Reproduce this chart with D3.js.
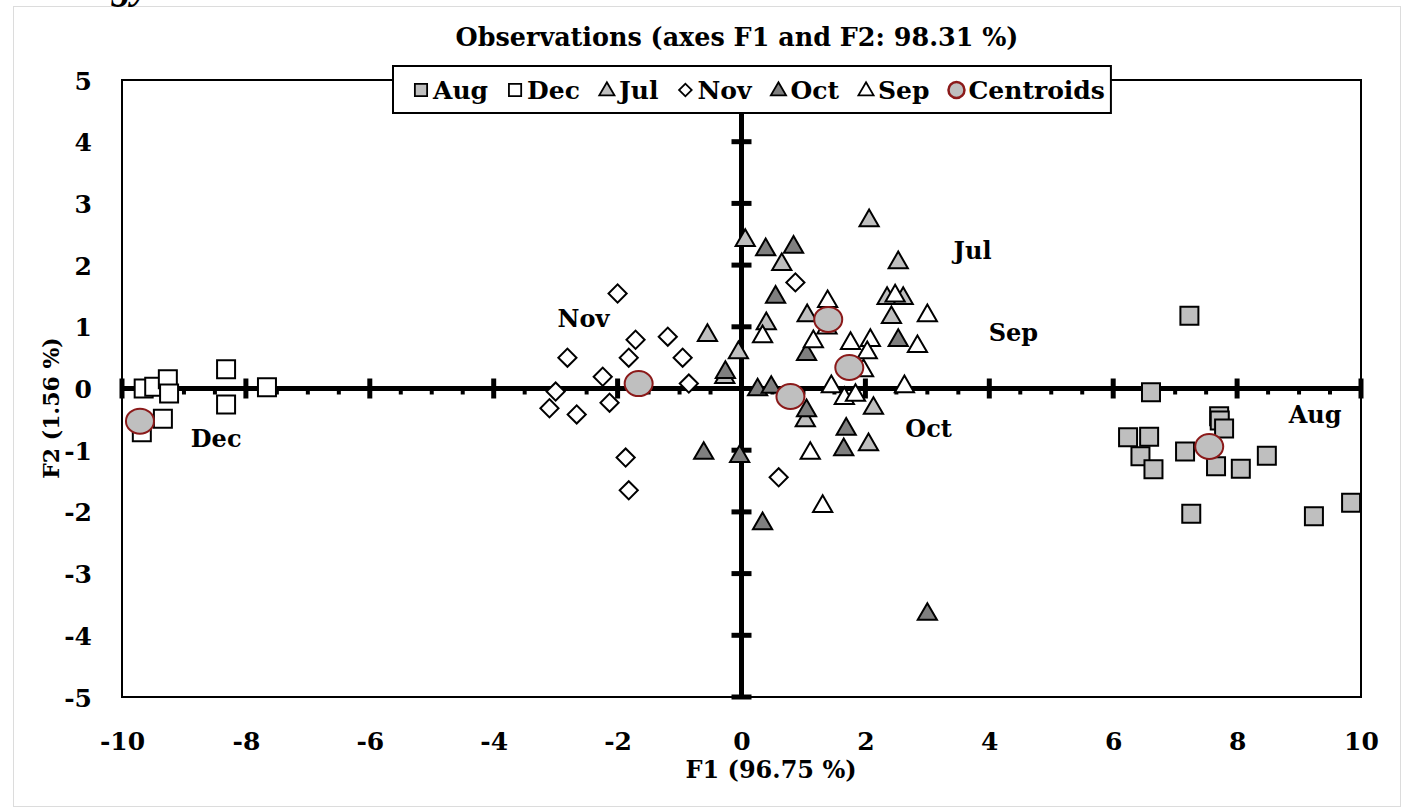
<!DOCTYPE html>
<html>
<head>
<meta charset="utf-8">
<script src="https://cdn.jsdelivr.net/npm/d3@7"></script>
<style>
  body { margin: 0; background: #fff; }
  svg { display: block; }
  text { font-family: "DejaVu Serif", serif; font-weight: bold; fill: #000; }
</style>
</head>
<body>
<div id="chart"></div>
<script>
// series points [F1, F2]
const augPoints = [[7.23, 1.18], [6.61, -0.06], [7.71, -0.45], [7.72, -0.52], [7.79, -0.65], [6.24, -0.79],
  [6.58, -0.78], [6.44, -1.10], [6.65, -1.31], [7.16, -1.02], [7.66, -1.26], [8.06, -1.30], [8.48, -1.09],
  [7.26, -2.03], [9.24, -2.07], [9.84, -1.85]];
const decPoints = [[-9.65, 0.00], [-9.48, 0.03], [-9.26, 0.15], [-9.24, -0.08], [-8.32, 0.31], [-8.32, -0.26],
  [-7.66, 0.02], [-9.34, -0.49], [-9.68, -0.71]];
const julPoints = [[2.06, 2.72], [0.06, 2.40], [0.65, 2.01], [2.53, 2.04], [2.35, 1.46], [2.61, 1.46], [2.42, 1.15],
  [0.40, 1.05], [1.06, 1.18], [-0.55, 0.86], [-0.05, 0.58], [-0.27, 0.18], [1.03, -0.52], [2.13, -0.32], [2.05, -0.91]];
const novPoints = [[-2.00, 1.54], [-1.71, 0.79], [-1.19, 0.84], [-2.81, 0.50], [-1.82, 0.50], [-0.95, 0.50],
  [-2.24, 0.19], [-0.85, 0.08], [-3.00, -0.05], [-2.13, -0.23], [-3.10, -0.32], [-2.66, -0.42], [-1.87, -1.12],
  [-1.82, -1.65], [0.60, -1.44], [0.87, 1.72]];
const octPoints = [[0.39, 2.25], [0.84, 2.29], [0.55, 1.48], [1.05, 0.55], [2.53, 0.78], [-0.26, 0.26], [0.26, -0.02],
  [0.48, 0.02], [1.05, -0.36], [1.69, -0.66], [1.65, -0.99], [-0.61, -1.05], [-0.03, -1.10], [0.34, -2.19], [3.00, -3.66]];
const sepPoints = [[1.39, 1.41], [2.48, 1.50], [3.00, 1.18], [0.34, 0.84], [1.38, 0.98], [1.16, 0.76], [1.76, 0.73],
  [2.08, 0.78], [2.03, 0.58], [2.84, 0.68], [1.97, 0.29], [1.45, 0.03], [1.66, -0.16], [1.84, -0.11], [2.63, 0.03],
  [1.11, -1.05], [1.31, -1.91]];
const centroidNames = ["Aug", "Dec", "Jul", "Nov", "Oct", "Sep"];
const centroidPoints = [[7.55, -0.94], [-9.71, -0.53], [1.40, 1.12], [-1.66, 0.08], [0.79, -0.13], [1.74, 0.34]];

// month labels placed in the plot
const labelNames = ["Dec", "Nov", "Jul", "Sep", "Oct", "Aug"];
const labelPoints = [[-8.48, -0.81], [-2.55, 1.14], [3.73, 2.24], [4.39, 0.91], [3.02, -0.65], [9.26, -0.42]];

const xTicks = [-10, -8, -6, -4, -2, 0, 2, 4, 6, 8, 10];
const yTicks = [-5, -4, -3, -2, -1, 0, 1, 2, 3, 4, 5];

const title = "Observations (axes F1 and F2: 98.31 %)";
const xTitle = "F1 (96.75 %)";
const yTitle = "F2 (1.56 %)";

const width = 1413, height = 812;

const svg = d3.select("#chart").append("svg")
  .attr("width", width)
  .attr("height", height);

// page frame + cut-off heading above the figure
svg.append("rect")
  .attr("x", 13.5).attr("y", 6.5)
  .attr("width", 1387).attr("height", 800)
  .attr("fill", "none").attr("stroke", "#dcdcdc").attr("stroke-width", 1);
svg.append("text")
  .attr("x", 112).attr("y", -2)
  .style("font-family", "'Liberation Serif', serif")
  .style("font-style", "italic")
  .style("font-size", "40px")
  .text("gy");

const x = d3.scaleLinear().domain([-10, 10]).range([122, 1361]);
const y = d3.scaleLinear().domain([-5, 5]).range([697, 80]);

// plot border
svg.append("rect")
  .attr("x", x(-10)).attr("y", y(5))
  .attr("width", x(10) - x(-10)).attr("height", y(-5) - y(5))
  .attr("fill", "none").attr("stroke", "#000").attr("stroke-width", 2);

// tick labels through d3 axes (plain hyphen for negatives, like the figure)
const fmt = d => String(d);
const xAxis = svg.append("g")
  .attr("transform", `translate(0,${y(-5)})`)
  .call(d3.axisBottom(x).tickValues(xTicks).tickSize(0).tickFormat(fmt));
const yAxis = svg.append("g")
  .attr("transform", `translate(${x(-10)},0)`)
  .call(d3.axisLeft(y).tickValues(yTicks).tickSize(0).tickPadding(30).tickFormat(fmt));
[xAxis, yAxis].forEach(a => {
  a.select(".domain").remove();
  a.selectAll("text")
    .attr("font-family", null).attr("font-size", null)
    .style("font-size", "25px");
});
xAxis.selectAll("text").attr("dy", 0).attr("y", 53);
yAxis.selectAll("text").attr("dy", "0.36em");

// zero cross axes with ticks
const cross = svg.append("g");
const xMinor = d3.range(-10, 10.01, 0.5).filter(v => v % 2 !== 0);
cross.selectAll(".minor").data(xMinor).enter().append("line")
  .attr("x1", d => x(d)).attr("x2", d => x(d))
  .attr("y1", y(0)).attr("y2", y(0) + 6)
  .attr("stroke", "#000").attr("stroke-width", 4);
cross.append("line")
  .attr("x1", x(-10)).attr("x2", x(10))
  .attr("y1", y(0)).attr("y2", y(0))
  .attr("stroke", "#000").attr("stroke-width", 5);
cross.append("line")
  .attr("x1", x(0)).attr("x2", x(0))
  .attr("y1", y(5)).attr("y2", y(-5))
  .attr("stroke", "#000").attr("stroke-width", 5);
cross.selectAll(".xmajor").data(xTicks).enter().append("line")
  .attr("x1", d => x(d)).attr("x2", d => x(d))
  .attr("y1", y(0) - 10).attr("y2", y(0) + 10)
  .attr("stroke", "#000").attr("stroke-width", 5);
cross.selectAll(".ymajor").data(yTicks).enter().append("line")
  .attr("x1", x(0) - 10).attr("x2", x(0) + 10)
  .attr("y1", d => y(d)).attr("y2", d => y(d))
  .attr("stroke", "#000").attr("stroke-width", 5);

// marker styles
const shapes = {
  square: d3.symbol().type(d3.symbolSquare).size(324),
  triangle: d3.symbol().type(d3.symbolTriangle).size(160),
  diamond: d3.symbol().type(d3.symbolSquare).size(165)
};
const series = [
  { name: "Aug", pts: augPoints, shape: "square", fill: "#bfbfbf" },
  { name: "Dec", pts: decPoints, shape: "square", fill: "#ffffff" },
  { name: "Jul", pts: julPoints, shape: "triangle", fill: "#bfbfbf" },
  { name: "Nov", pts: novPoints, shape: "diamond", fill: "#ffffff" },
  { name: "Oct", pts: octPoints, shape: "triangle", fill: "#7f7f7f" },
  { name: "Sep", pts: sepPoints, shape: "triangle", fill: "#ffffff" }
];

function markerTransform(shape, px, py) {
  return shape === "diamond" ? `translate(${px},${py}) rotate(45)` : `translate(${px},${py})`;
}

series.forEach(s => {
  svg.append("g").selectAll("path")
    .data(s.pts).enter().append("path")
    .attr("d", shapes[s.shape]())
    .attr("transform", d => markerTransform(s.shape, x(d[0]), y(d[1])))
    .attr("fill", s.fill)
    .attr("stroke", "#000")
    .attr("stroke-width", 2);
});

svg.append("g").selectAll("ellipse")
  .data(centroidPoints).enter().append("ellipse")
  .attr("cx", d => x(d[0])).attr("cy", d => y(d[1]))
  .attr("rx", 14).attr("ry", 12.5)
  .attr("fill", "#bfbfbf")
  .attr("stroke", "#8b1a1a")
  .attr("stroke-width", 2);

// month labels
svg.append("g").selectAll("text")
  .data(labelPoints).enter().append("text")
  .attr("x", d => x(d[0])).attr("y", d => y(d[1]))
  .attr("text-anchor", "middle")
  .attr("dy", "0.36em")
  .style("font-size", "24px")
  .text((d, i) => labelNames[i]);

// title, fitted to the width in the figure
const titleText = svg.append("text")
  .attr("x", 737).attr("y", 46)
  .attr("text-anchor", "middle")
  .style("font-size", "22px")
  .text(title);
const tw = titleText.node().getComputedTextLength();
titleText.style("font-size", (22 * 563 / tw) + "px");

svg.append("text")
  .attr("x", 771).attr("y", 778)
  .attr("text-anchor", "middle")
  .style("font-size", "24px")
  .text(xTitle);
svg.append("text")
  .attr("transform", "translate(59,408) rotate(-90)")
  .attr("text-anchor", "middle")
  .style("font-size", "22px")
  .text(yTitle);

// legend
const legendItems = series.map(s => ({ name: s.name, shape: s.shape, fill: s.fill }))
  .concat([{ name: "Centroids", shape: "circle", fill: "#bfbfbf" }]);
const legend = svg.append("g");
const legendBox = legend.append("rect")
  .attr("x", 393).attr("y", 66).attr("height", 47)
  .attr("fill", "#fff").attr("stroke", "#000").attr("stroke-width", 2);
let cursor = 412;
const legendY = 90;
const gap = 18;
legendItems.forEach(item => {
  const cx = cursor + 9;
  if (item.shape === "circle") {
    legend.append("circle")
      .attr("cx", cx).attr("cy", legendY).attr("r", 8)
      .attr("fill", item.fill).attr("stroke", "#8b1a1a").attr("stroke-width", 2.5);
  } else {
    const sym = item.shape === "square" ? d3.symbol().type(d3.symbolSquare).size(150)
      : item.shape === "triangle" ? d3.symbol().type(d3.symbolTriangle).size(100)
      : d3.symbol().type(d3.symbolSquare).size(80);
    legend.append("path")
      .attr("d", sym())
      .attr("transform", markerTransform(item.shape, cx, legendY + (item.shape === "triangle" ? 1 : 0)))
      .attr("fill", item.fill).attr("stroke", "#000").attr("stroke-width", 1.8);
  }
  const t = legend.append("text")
    .attr("x", cursor + 21).attr("y", legendY + 9)
    .style("font-size", "25px")
    .text(item.name);
  cursor = cursor + 21 + t.node().getComputedTextLength() + gap;
});
legendBox.attr("width", cursor - gap + 6 - 393);
</script>
</body>
</html>
